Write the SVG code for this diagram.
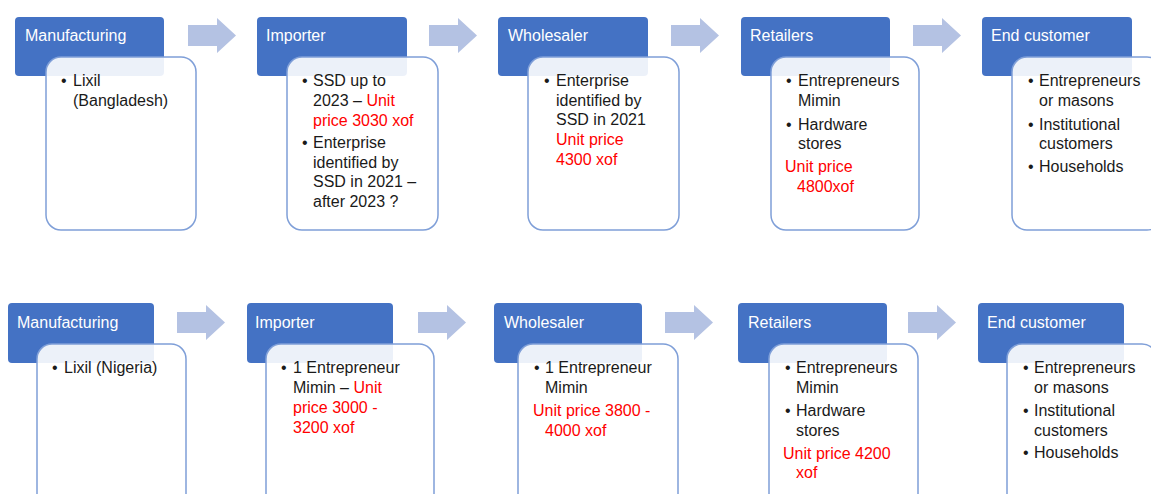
<svg xmlns="http://www.w3.org/2000/svg" width="1151" height="494" viewBox="0 0 1151 494">
<style>
.hd{fill:#4472c4;}
.bx{fill:#ffffff;fill-opacity:0.9;stroke:#7f9fd8;stroke-width:1.5;}
.ar{fill:#b4c2e3;}
.ht{font-family:"Liberation Sans",Arial,sans-serif;font-size:16px;fill:#ffffff;}
.t{font-family:"Liberation Sans",Arial,sans-serif;font-size:16px;fill:#1a1a1a;}
.r{fill:#ff0000;}
</style>
<defs>
<path id="arrow" d="M0 7 H29 V0 L48 17.5 L29 35 V28 H0 Z"/>
</defs>
<rect width="1151" height="494" fill="#ffffff"/>
<g id="connectors">
<use href="#arrow" class="ar" x="188" y="18"/>
<use href="#arrow" class="ar" x="429" y="18"/>
<use href="#arrow" class="ar" x="671" y="18"/>
<use href="#arrow" class="ar" x="913" y="18"/>
<use href="#arrow" class="ar" x="177" y="305"/>
<use href="#arrow" class="ar" x="418" y="305"/>
<use href="#arrow" class="ar" x="665" y="305"/>
<use href="#arrow" class="ar" x="908" y="305"/>
</g>
<g id="top-manufacturing">
<rect class="hd" x="15" y="17" width="149" height="59" rx="4"/>
<rect class="bx" x="46" y="57" width="150" height="173" rx="15"/>
<text class="ht" x="25" y="41">Manufacturing</text>
<text class="t"><tspan x="61" y="86">•</tspan><tspan x="73" y="86">Lixil</tspan><tspan x="73" y="106">(Bangladesh)</tspan></text>
</g>
<g id="top-importer">
<rect class="hd" x="257" y="17" width="150" height="59" rx="4"/>
<rect class="bx" x="287" y="57" width="151" height="173" rx="15"/>
<text class="ht" x="266" y="41">Importer</text>
<text class="t"><tspan x="302" y="86">•</tspan><tspan x="313" y="86">SSD up to</tspan><tspan x="313" y="106">2023 – </tspan><tspan class="r">Unit</tspan><tspan class="r" x="313" y="126">price 3030 xof</tspan><tspan x="302" y="148">•</tspan><tspan x="313" y="148">Enterprise</tspan><tspan x="313" y="168">identified by</tspan><tspan x="313" y="187">SSD in 2021 –</tspan><tspan x="313" y="207">after 2023 ?</tspan></text>
</g>
<g id="top-wholesaler">
<rect class="hd" x="498" y="17" width="150" height="59" rx="4"/>
<rect class="bx" x="528" y="57" width="151" height="173" rx="15"/>
<text class="ht" x="508" y="41">Wholesaler</text>
<text class="t"><tspan x="544" y="86">•</tspan><tspan x="556" y="86">Enterprise</tspan><tspan x="556" y="106">identified by</tspan><tspan x="556" y="125">SSD in 2021</tspan><tspan class="r" x="556" y="145">Unit price</tspan><tspan class="r" x="556" y="165">4300 xof</tspan></text>
</g>
<g id="top-retailers">
<rect class="hd" x="741" y="17" width="149" height="59" rx="4"/>
<rect class="bx" x="771" y="57" width="148" height="173" rx="15"/>
<text class="ht" x="750" y="41">Retailers</text>
<text class="t"><tspan x="786" y="86">•</tspan><tspan x="798" y="86">Entrepreneurs</tspan><tspan x="798" y="106">Mimin</tspan><tspan x="786" y="130">•</tspan><tspan x="798" y="130">Hardware</tspan><tspan x="798" y="149">stores</tspan><tspan class="r" x="785" y="172">Unit price</tspan><tspan class="r" x="797" y="192">4800xof</tspan></text>
</g>
<g id="top-end-customer">
<rect class="hd" x="982" y="17" width="150" height="59" rx="4"/>
<rect class="bx" x="1012" y="57" width="150" height="173" rx="15"/>
<text class="ht" x="991" y="41">End customer</text>
<text class="t"><tspan x="1028" y="86">•</tspan><tspan x="1039" y="86">Entrepreneurs</tspan><tspan x="1039" y="106">or masons</tspan><tspan x="1028" y="130">•</tspan><tspan x="1039" y="130">Institutional</tspan><tspan x="1039" y="149">customers</tspan><tspan x="1028" y="172">•</tspan><tspan x="1039" y="172">Households</tspan></text>
</g>
<g id="bottom-manufacturing">
<rect class="hd" x="8" y="303" width="146" height="60" rx="4"/>
<rect class="bx" x="37" y="344" width="149" height="175" rx="15"/>
<text class="ht" x="17" y="328">Manufacturing</text>
<text class="t"><tspan x="52" y="373">•</tspan><tspan x="64" y="373">Lixil (Nigeria)</tspan></text>
</g>
<g id="bottom-importer">
<rect class="hd" x="247" y="303" width="146" height="60" rx="4"/>
<rect class="bx" x="266" y="344" width="168" height="175" rx="15"/>
<text class="ht" x="255" y="328">Importer</text>
<text class="t"><tspan x="281" y="373">•</tspan><tspan x="293" y="373">1 Entrepreneur</tspan><tspan x="293" y="393">Mimin – </tspan><tspan class="r">Unit</tspan><tspan class="r" x="293" y="413">price 3000 -</tspan><tspan class="r" x="293" y="433">3200 xof</tspan></text>
</g>
<g id="bottom-wholesaler">
<rect class="hd" x="494" y="303" width="148" height="60" rx="4"/>
<rect class="bx" x="518" y="344" width="160" height="175" rx="15"/>
<text class="ht" x="504" y="328">Wholesaler</text>
<text class="t"><tspan x="534" y="373">•</tspan><tspan x="545" y="373">1 Entrepreneur</tspan><tspan x="545" y="393">Mimin</tspan><tspan class="r" x="533" y="416">Unit price 3800 -</tspan><tspan class="r" x="545" y="436">4000 xof</tspan></text>
</g>
<g id="bottom-retailers">
<rect class="hd" x="738" y="303" width="149" height="60" rx="4"/>
<rect class="bx" x="769" y="344" width="149" height="175" rx="15"/>
<text class="ht" x="748" y="328">Retailers</text>
<text class="t"><tspan x="785" y="373">•</tspan><tspan x="796" y="373">Entrepreneurs</tspan><tspan x="796" y="393">Mimin</tspan><tspan x="785" y="416">•</tspan><tspan x="796" y="416">Hardware</tspan><tspan x="796" y="436">stores</tspan><tspan class="r" x="783" y="459">Unit price 4200</tspan><tspan class="r" x="796" y="478">xof</tspan></text>
</g>
<g id="bottom-end-customer">
<rect class="hd" x="978" y="303" width="146" height="60" rx="4"/>
<rect class="bx" x="1007" y="344" width="150" height="175" rx="15"/>
<text class="ht" x="987" y="328">End customer</text>
<text class="t"><tspan x="1023" y="373">•</tspan><tspan x="1034" y="373">Entrepreneurs</tspan><tspan x="1034" y="393">or masons</tspan><tspan x="1023" y="416">•</tspan><tspan x="1034" y="416">Institutional</tspan><tspan x="1034" y="436">customers</tspan><tspan x="1023" y="458">•</tspan><tspan x="1034" y="458">Households</tspan></text>
</g>
</svg>
